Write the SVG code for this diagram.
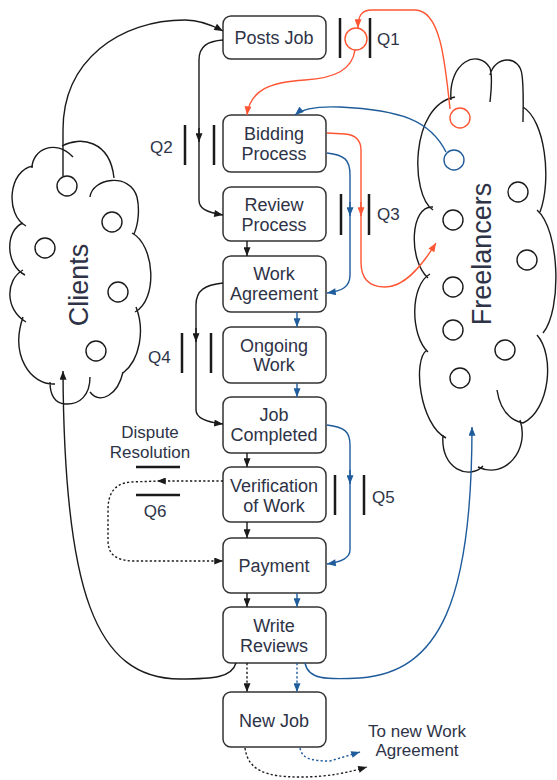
<svg xmlns="http://www.w3.org/2000/svg" width="557" height="780" viewBox="0 0 557 780">
<style>
.box rect{fill:#fff;stroke:#333;stroke-width:1.5}
text{font-family:"Liberation Sans",Arial,sans-serif;fill:#2e3347}
.bt{font-size:18px;text-anchor:middle}
.q{font-size:17px}
.k{fill:none;stroke:#1a1a1a;stroke-width:1.4}
.r{fill:none;stroke:#ff5533;stroke-width:1.4}
.b{fill:none;stroke:#1f5c9c;stroke-width:1.4}
.d{stroke-dasharray:2.2 2.2}
.bar{stroke:#1a1a1a;stroke-width:2.5}
.cloud{fill:none;stroke:#1a1a1a;stroke-width:1.4}
.c{fill:#fff;stroke:#1a1a1a;stroke-width:1.4}
</style>
<defs>
<marker id="ak" viewBox="0 0 10 8" refX="10" refY="4" markerWidth="10" markerHeight="7" markerUnits="userSpaceOnUse" orient="auto"><path d="M0,0 L10,4 L0,8 z" fill="#1a1a1a"/></marker>
<marker id="ar" viewBox="0 0 10 8" refX="10" refY="4" markerWidth="10" markerHeight="7" markerUnits="userSpaceOnUse" orient="auto"><path d="M0,0 L10,4 L0,8 z" fill="#ff5533"/></marker>
<marker id="ab" viewBox="0 0 10 8" refX="10" refY="4" markerWidth="10" markerHeight="7" markerUnits="userSpaceOnUse" orient="auto"><path d="M0,0 L10,4 L0,8 z" fill="#1f5c9c"/></marker>
</defs>

<g id="clients">
<path class="cloud" d="M32,168 C32,150 55,138 73,157 M62,146 C80,136 110,140 114,178 M90,197 C92,178 130,172 137,197 C140,210 138,225 134,234 M132,233 C155,245 158,300 135,312 M136,307 C145,330 140,360 123,373 M123,372 C118,395 100,405 90,392 M90,377 C90,395 80,405 65,404 C55,403 50,395 50,382 M55,384 C30,385 10,355 23,317 M26,322 C5,310 5,280 23,270 M25,275 C5,265 5,230 23,223 M26,226 C5,215 8,170 33,166"/>
<circle class="c" cx="67" cy="186" r="10"/>
<circle class="c" cx="112" cy="222" r="10"/>
<circle class="c" cx="45" cy="248" r="10"/>
<circle class="c" cx="118" cy="292" r="10"/>
<circle class="c" cx="96" cy="351" r="10"/>
<text transform="translate(88,285) rotate(-90)" font-size="27" text-anchor="middle">Clients</text>
</g>

<g id="freelancers">
<path class="cloud" d="M433,210 C410,195 410,105 455,97 M451,100 C448,62 478,48 490,68 C493,78 491,92 490,102 M490,75 C495,55 520,55 522,75 C524,90 523,110 523,122 M523,107 C545,120 552,180 540,212 M537,210 C560,230 562,310 543,333 M537,335 C555,355 550,410 523,423 M497,390 C500,410 510,420 523,423 M520,420 C530,450 505,480 478,467 M483,466 C470,480 440,470 443,435 M446,438 C420,425 412,360 427,350 M428,352 C410,335 410,285 430,274 M428,278 C408,260 410,205 433,207"/>
<circle class="c" cx="460" cy="118" r="10" style="stroke:#ff5533"/>
<circle class="c" cx="454" cy="160" r="10" style="stroke:#1f5c9c"/>
<circle class="c" cx="518" cy="192" r="10"/>
<circle class="c" cx="453" cy="220" r="10"/>
<circle class="c" cx="527" cy="260" r="10"/>
<circle class="c" cx="453" cy="287" r="10"/>
<circle class="c" cx="453" cy="330" r="10"/>
<circle class="c" cx="505" cy="350" r="10"/>
<circle class="c" cx="460" cy="378" r="10"/>
<text transform="translate(491,254) rotate(-90)" font-size="27" text-anchor="middle">Freelancers</text>
</g>

<g id="posts-job" class="box"><rect x="223" y="16" width="103" height="43" rx="8"/><text class="bt" x="274" y="44">Posts Job</text></g>
<g id="bidding-process" class="box"><rect x="223" y="115" width="103" height="57" rx="8"/><text class="bt" x="274" y="140">Bidding</text><text class="bt" x="274" y="160">Process</text></g>
<g id="review-process" class="box"><rect x="223" y="187" width="103" height="54" rx="8"/><text class="bt" x="274" y="211">Review</text><text class="bt" x="274" y="231">Process</text></g>
<g id="work-agreement" class="box"><rect x="223" y="256" width="103" height="56" rx="8"/><text class="bt" x="274" y="280">Work</text><text class="bt" x="274" y="300">Agreement</text></g>
<g id="ongoing-work" class="box"><rect x="223" y="327" width="103" height="56" rx="8"/><text class="bt" x="274" y="352">Ongoing</text><text class="bt" x="274" y="371">Work</text></g>
<g id="job-completed" class="box"><rect x="223" y="397" width="103" height="56" rx="8"/><text class="bt" x="274" y="421">Job</text><text class="bt" x="274" y="441">Completed</text></g>
<g id="verification" class="box"><rect x="223" y="467" width="103" height="55" rx="8"/><text class="bt" x="274" y="492">Verification</text><text class="bt" x="274" y="512">of Work</text></g>
<g id="payment" class="box"><rect x="223" y="538" width="103" height="55" rx="8"/><text class="bt" x="274" y="572">Payment</text></g>
<g id="write-reviews" class="box"><rect x="223" y="607" width="103" height="56" rx="8"/><text class="bt" x="274" y="632">Write</text><text class="bt" x="274" y="652">Reviews</text></g>
<g id="new-job" class="box"><rect x="223" y="692" width="103" height="55" rx="8"/><text class="bt" x="274" y="727">New Job</text></g>

<g id="connectors">
<path class="k" marker-end="url(#ak)" d="M63,176 L63,130 C63,60 120,20 185,20 C200,20 212,25 223,31"/>
<path class="k" marker-end="url(#ak)" d="M223,40 C208,41 199,46 199,60 L199,200 C199,208 205,212 223,215"/>
<path class="k" marker-end="url(#ak)" d="M199,128 L199,142"/>
<circle cx="356" cy="39" r="11" fill="#fff" stroke="#ff5533" stroke-width="1.4"/>
<path class="r" marker-end="url(#ar)" d="M450,109 C445,60 440,10 415,10 L372,10 C362,10 358,15 358,28"/>
<path class="r" marker-end="url(#ar)" d="M355,50 C352,70 335,78 305,80 C270,82 250,90 247,115"/>
<path class="b" marker-end="url(#ab)" d="M446,152 C430,120 400,110 340,107 C315,106 302,109 295,115"/>
<path class="r" marker-end="url(#ar)" d="M327,133 L345,134 C356,135 361,140 361,150 L361,262 C361,280 370,287 385,287 C402,287 418,272 436,243"/>
<path class="r" marker-end="url(#ar)" d="M361,202 L361,216"/>
<path class="b" marker-end="url(#ab)" d="M327,153 C345,155 350,160 350,175 L350,275 C350,287 342,291 327,293"/>
<path class="b" marker-end="url(#ab)" d="M350,202 L350,216"/>
<path class="k" marker-end="url(#ak)" d="M223,283 C205,285 196,290 196,305 L196,410 C196,418 205,422 223,424"/>
<path class="k" marker-end="url(#ak)" d="M196,328 L196,342"/>
<path class="b" marker-end="url(#ab)" d="M327,425 C345,427 350,432 350,445 L350,550 C350,558 342,562 327,564"/>
<path class="b" marker-end="url(#ab)" d="M350,470 L350,484"/>
<path class="k" marker-end="url(#ak)" d="M247,241 L247,256"/>
<path class="b" marker-end="url(#ab)" d="M297,312 L297,327"/>
<path class="b" marker-end="url(#ab)" d="M297,383 L297,397"/>
<path class="k" marker-end="url(#ak)" d="M247,453 L247,467"/>
<path class="k" marker-end="url(#ak)" d="M247,522 L247,538"/>
<path class="k" marker-end="url(#ak)" d="M247,593 L247,607"/>
<path class="b" marker-end="url(#ab)" d="M297,593 L297,607"/>
<path class="k d" marker-end="url(#ak)" d="M247,663 L247,692"/>
<path class="b d" marker-end="url(#ab)" d="M297,663 L297,692"/>
<path class="k d" marker-end="url(#ak)" d="M223,481 L157,481"/>
<path class="k d" marker-end="url(#ak)" d="M160,481 L130,482 C113,484 108,495 108,510 L108,540 C108,554 115,560 132,561 L223,561"/>
<path class="k" marker-end="url(#ak)" d="M236,663 C232,677 215,679 180,679 C95,679 64,590 63,371"/>
<path class="b" marker-end="url(#ab)" d="M305,663 C308,679 325,680 360,678 C440,672 472,600 472,427"/>
<path class="k d" marker-end="url(#ak)" d="M245,748 C248,770 265,777 300,777 C330,777 350,772 367,767"/>
<path class="b d" marker-end="url(#ab)" d="M300,748 C302,758 310,761 330,761 L360,752"/>
</g>

<g id="gates">
<line class="bar" x1="340" y1="18" x2="340" y2="58"/><line class="bar" x1="370" y1="18" x2="370" y2="58"/>
<line class="bar" x1="185" y1="125" x2="185" y2="165"/><line class="bar" x1="214" y1="125" x2="214" y2="165"/>
<line class="bar" x1="341" y1="194" x2="341" y2="235"/><line class="bar" x1="369" y1="194" x2="369" y2="235"/>
<line class="bar" x1="182" y1="333" x2="182" y2="373"/><line class="bar" x1="211" y1="333" x2="211" y2="373"/>
<line class="bar" x1="335" y1="475" x2="335" y2="515"/><line class="bar" x1="364" y1="475" x2="364" y2="515"/>
<line class="bar" x1="136" y1="467" x2="180" y2="467"/><line class="bar" x1="136" y1="495" x2="180" y2="495"/>
<text class="q" x="377" y="45">Q1</text>
<text class="q" x="150" y="153">Q2</text>
<text class="q" x="377" y="220">Q3</text>
<text class="q" x="148" y="363">Q4</text>
<text class="q" x="372" y="503">Q5</text>
<text class="q" x="155" y="517" text-anchor="middle">Q6</text>
<text class="q" x="150" y="438" text-anchor="middle">Dispute</text>
<text class="q" x="150" y="458" text-anchor="middle">Resolution</text>
<text class="q" x="417" y="737" text-anchor="middle">To new Work</text>
<text class="q" x="417" y="756" text-anchor="middle">Agreement</text>
</g>
</svg>
